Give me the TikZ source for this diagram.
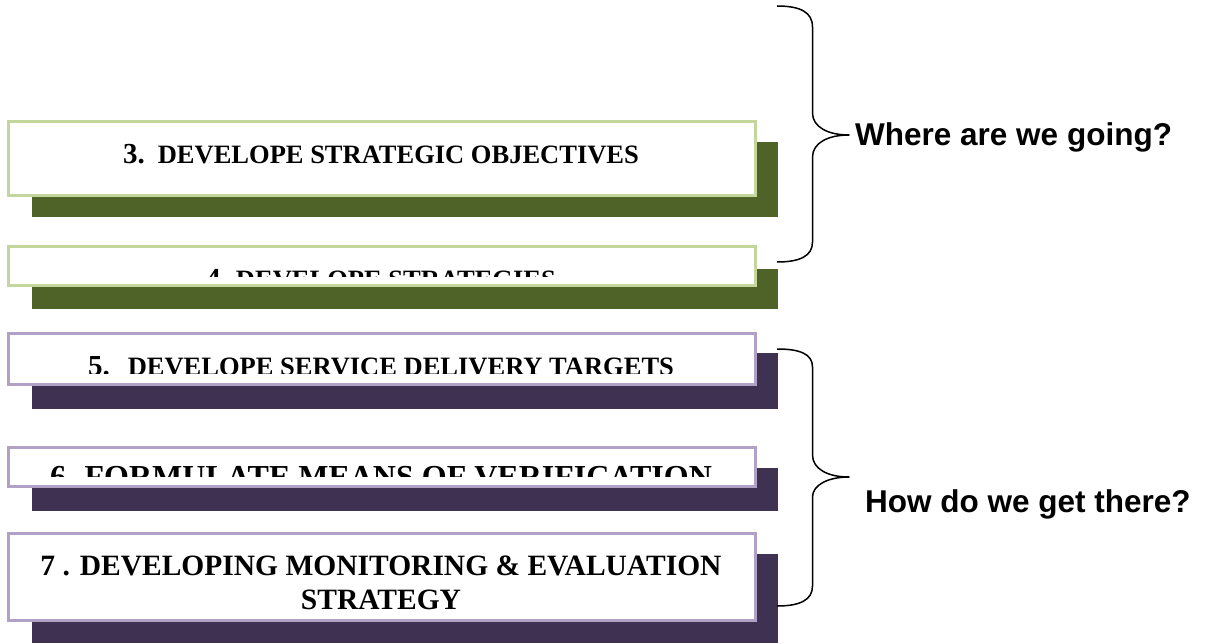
\documentclass[tikz,border=0pt]{standalone}
\usepackage{fontspec}
\setmainfont{Liberation Serif}
\newfontfamily\questionfont{Liberation Sans}
\usepackage{tikz}
\usetikzlibrary{positioning, calc}

\definecolor{olivedark}{HTML}{4F6228}
\definecolor{olivelight}{HTML}{C3D69B}
\definecolor{plumdark}{HTML}{3F3151}
\definecolor{plumlight}{HTML}{B2A1C7}

\newcommand{\numsize}{\fontsize{29}{34}\selectfont}
\newcommand{\capsize}{\fontsize{26.5}{34}\selectfont}

\begin{document}
\begin{tikzpicture}[x=1pt, y=-1pt,
  stepframe/.style={draw=#1, line width=3pt, fill=white},
  steptext/.style={anchor=base, inner sep=0pt, align=center, font=\bfseries},
  question/.style={anchor=base west, inner sep=0pt,
    font=\questionfont\bfseries\fontsize{31.5}{36}\selectfont},
  brace/.style={line width=1.5pt, line join=round}]
  \useasboundingbox (0,0) rectangle (1209,644);

  % Step 3
  \coordinate (s3a) at (8.5,121.5);
  \coordinate (s3b) at (755,195.5);
  \fill[olivedark] ($(s3a)+(23,21)$) rectangle ($(s3b)+(23,22)$);
  \draw[stepframe=olivelight] (s3a) rectangle (s3b);
  \node[steptext] (t3) at (381,164) {\numsize 3.\hspace{13pt}\capsize DEVELOPE STRATEGIC OBJECTIVES};

  % Step 4
  \coordinate (s4a) at (8.5,247);
  \coordinate (s4b) at (755,285);
  \fill[olivedark] ($(s4a)+(23,22)$) rectangle ($(s4b)+(23,24)$);
  \draw[stepframe=olivelight] (s4a) rectangle (s4b);
  \begin{scope}
    \clip (s4a) rectangle ($(s4b)+(0,-9)$);
    \node[steptext] (t4) at (381,288) {\numsize 4.\hspace{8pt}\capsize DEVELOPE STRATEGIES};
  \end{scope}

  % Step 5
  \coordinate (s5a) at (8.5,333);
  \coordinate (s5b) at (755,384.5);
  \fill[plumdark] ($(s5a)+(23,20)$) rectangle ($(s5b)+(23,24)$);
  \draw[stepframe=plumlight] (s5a) rectangle (s5b);
  \begin{scope}
    \clip (s5a) rectangle ($(s5b)+(0,-11)$);
    \node[steptext] (t5) at (381,375) {\numsize 5.\hspace{18pt}\capsize DEVELOPE SERVICE DELIVERY TARGETS};
  \end{scope}

  % Step 6
  \coordinate (s6a) at (8.5,447);
  \coordinate (s6b) at (755,486.5);
  \fill[plumdark] ($(s6a)+(23,21)$) rectangle ($(s6b)+(23,24)$);
  \draw[stepframe=plumlight] (s6a) rectangle (s6b);
  \begin{scope}
    \clip (s6a) rectangle ($(s6b)+(0,-10)$);
    \node[steptext] (t6) at (381,487) {\fontsize{32}{36}\selectfont 6. FORMULATE MEANS OF VERIFICATION};
  \end{scope}

  % Step 7 (two lines, anchored on the last baseline)
  \coordinate (s7a) at (8.5,533);
  \coordinate (s7b) at (755,620);
  \fill[plumdark] ($(s7a)+(23,21)$) rectangle ($(s7b)+(23,23)$);
  \draw[stepframe=plumlight] (s7a) rectangle (s7b);
  \node[steptext, font=\bfseries\fontsize{29.5}{34}\selectfont] (t7) at (381,609)
    {7 . DEVELOPING MONITORING \& EVALUATION\\ STRATEGY};

  % Braces
  \draw[brace] (777,6) .. controls (800,6) and (812.5,12) .. (812.5,27)
    -- (812.5,113) .. controls (812.5,127) and (828,135) .. (849,135)
    .. controls (828,135) and (812.5,143) .. (812.5,157)
    -- (812.5,242) .. controls (812.5,256) and (800,262) .. (777,262);
  \draw[brace] (777,349) .. controls (800,349) and (812.5,354) .. (812.5,367)
    -- (812.5,455) .. controls (812.5,469) and (828,477) .. (849,477)
    .. controls (828,477) and (812.5,485) .. (812.5,497)
    -- (812.5,586) .. controls (812.5,600) and (800,606) .. (777,606);

  % Questions
  \node[question] (going) at (855,146) {Where are we going?};
  \node[question] (there) at (865,512) {How do we get there?};
\end{tikzpicture}
\end{document}
